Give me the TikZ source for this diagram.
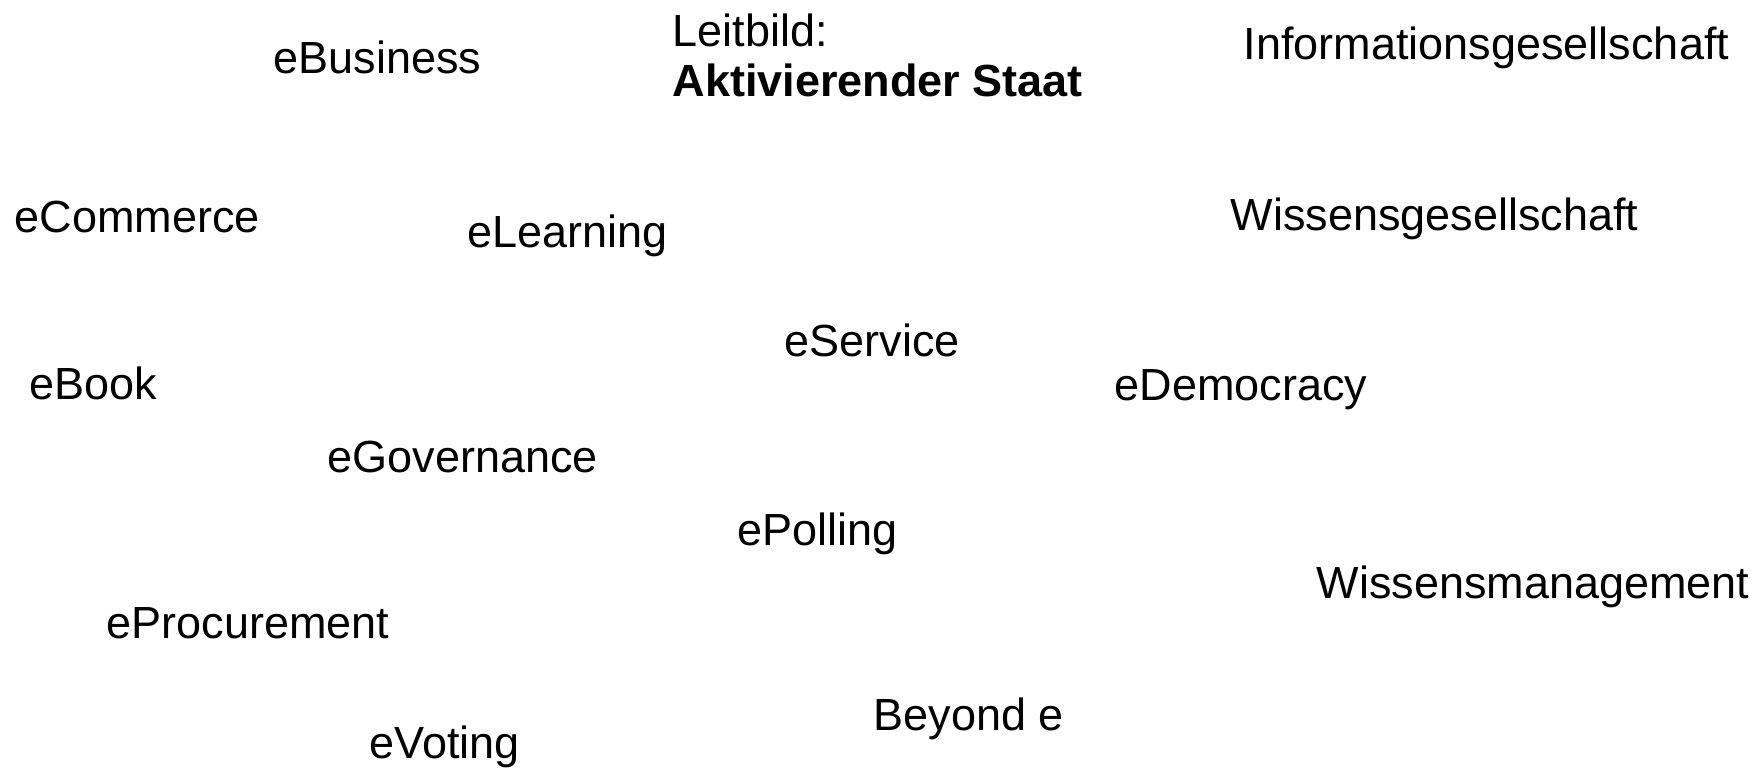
\documentclass[tikz,border=0pt]{standalone}
\usepackage{fontspec}
\setmainfont{Liberation Sans}

\begin{document}
\begin{tikzpicture}
        [%%%%%%%%%%%%%%%%%%%%%%%%%%%%%%
        x=0.01cm, y=-0.01cm,
        term/.style={anchor=base west, inner sep=0pt, font=\fontsize{12.8}{14.4}\selectfont},
        ]%%%%%%%%%%%%%%%%%%%%%%%%%%%%%%

        \useasboundingbox (0,0) rectangle (1764,770);

        \node[term] (business) at (273,74) {eBusiness};
        \node[term] (leitbild) at (672,47) {Leitbild:};
        \node[term] (staat) at (672,97) {\textbf{Aktivierender Staat}};
        \node[term] (infoges) at (1243,60) {Informationsgesellschaft};

        \node[term] (commerce) at (14,232) {eCommerce};
        \node[term] (learning) at (467,247) {eLearning};
        \node[term] (wissges) at (1230,230) {Wissensgesellschaft};

        \node[term] (service) at (784,356) {eService};
        \node[term] (book) at (29,399) {eBook};
        \node[term] (democracy) at (1114,400) {eDemocracy};
        \node[term] (governance) at (327,472) {eGovernance};

        \node[term] (polling) at (737,545) {ePolling};
        \node[term] (wissman) at (1316,598) {Wissensmanagement};
        \node[term] (procure) at (106,638) {eProcurement};
        \node[term] (beyond) at (873,730) {Beyond e};
        \node[term] (voting) at (369,758) {eVoting};

      \end{tikzpicture}
\end{document}
